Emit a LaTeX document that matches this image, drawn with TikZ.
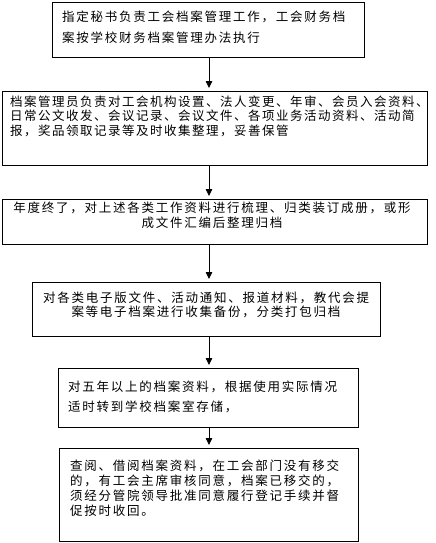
\documentclass[tikz,border=0pt]{standalone}
\usepackage{fontspec}
\newfontfamily\cjk[LetterSpace=14]{Noto Sans CJK SC}
\usetikzlibrary{arrows.meta}
\begin{document}
\begin{tikzpicture}[x=1pt,y=-1pt,
  box/.style={draw,line width=0.8pt,anchor=north west,inner sep=0pt,outer sep=0pt},
  txt/.style={inner sep=0pt,outer sep=0pt,text=black},
  arr/.style={line width=0.8pt,-{Triangle[width=6.5pt,length=7pt]},shorten >=3pt}]
\useasboundingbox (0,0) rectangle (436,543);
\coordinate (ax) at (209,0);
\node[box,minimum width=312pt,minimum height=55pt] (b1) at (52,2) {};
\node[box,minimum width=425pt,minimum height=74pt] (b2) at (2,91) {};
\node[box,minimum width=425pt,minimum height=45pt] (b3) at (2,199) {};
\node[box,minimum width=348pt,minimum height=54pt] (b4) at (32,282) {};
\node[box,minimum width=300pt,minimum height=59pt] (b5) at (58,368) {};
\node[box,minimum width=299pt,minimum height=93pt] (b6) at (59,448) {};
\node[txt,anchor=north west,align=left,font=\cjk\fontsize{12.5}{21}\selectfont] (t1) at (62,11.4)
 {指定秘书负责工会档案管理工作，工会财务档\\案按学校财务档案管理办法执行};
\node[txt,anchor=north west,align=left,font=\cjk\addfontfeature{LetterSpace=12}\fontsize{12.5}{14.5}\selectfont] (t2) at (10,95.4)
 {档案管理员负责对工会机构设置、法人变更、年审、会员入会资料、\\日常公文收发、会议记录、会议文件、各项业务活动资料、活动简\\报，奖品领取记录等及时收集整理，妥善保管};
\node[txt,anchor=north,align=center,font=\cjk\fontsize{12.5}{15}\selectfont] (t3) at (212,201.4)
 {年度终了，对上述各类工作资料进行梳理、归类装订成册，或形\\成文件汇编后整理归档};
\node[txt,anchor=north,align=center,font=\cjk\fontsize{12.5}{14.5}\selectfont] (t4) at (206,291.4)
 {对各类电子版文件、活动通知、报道材料，教代会提\\案等电子档案进行收集备份，分类打包归档};
\node[txt,anchor=north west,align=left,font=\cjk\fontsize{12.5}{20}\selectfont] (t5) at (68,381.4)
 {对五年以上的档案资料，根据使用实际情况\\适时转到学校档案室存储，};
\node[txt,anchor=north west,align=left,font=\cjk\fontsize{12.5}{15}\selectfont] (t6) at (70,459.4)
 {查阅、借阅档案资料，在工会部门没有移交\\的，有工会主席审核同意，档案已移交的，\\须经分管院领导批准同意履行登记手续并督\\促按时收回。};
\draw[arr] (b1.south -| ax) -- (b2.north -| ax);
\draw[arr] (b2.south -| ax) -- (b3.north -| ax);
\draw[arr] (b3.south -| ax) -- (b4.north -| ax);
\draw[arr] (b4.south -| ax) -- (b5.north -| ax);
\draw[arr] (b5.south -| ax) -- (b6.north -| ax);
\end{tikzpicture}
\end{document}
